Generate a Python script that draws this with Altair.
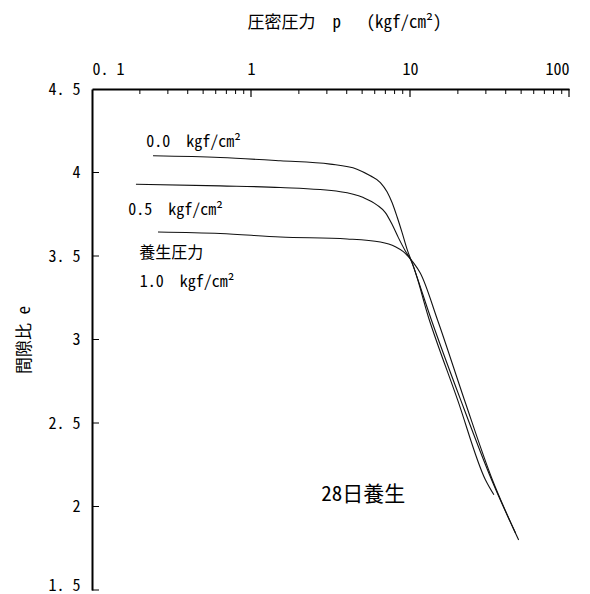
import altair as alt
import pandas as pd

# Consolidation curves: void ratio e vs. consolidation pressure p (log scale)
p_00 = [0.242, 0.64, 1.53, 3.15, 4.64, 5.63, 6.51, 7.17, 7.71, 8.29, 8.92, 9.59, 10.3, 13.6, 20.8, 32.6, 48.2]
e_00 = [4.10, 4.09, 4.07, 4.05, 4.02, 3.98, 3.94, 3.885, 3.82, 3.735, 3.64, 3.54, 3.46, 3.12, 2.64, 2.16, 1.80]

p_05 = [0.189, 0.64, 1.53, 3.65, 5.09, 6.21, 7.0, 7.71, 8.45, 9.35, 10.07, 13.2, 19.9, 29.8, 33.7]
e_05 = [3.93, 3.92, 3.91, 3.885, 3.85, 3.805, 3.76, 3.69, 3.61, 3.53, 3.48, 3.12, 2.64, 2.16, 2.07]

p_10 = [0.260, 0.64, 1.53, 4.02, 6.51, 8.09, 9.08, 9.77, 10.5, 11.6, 14.9, 22.0, 33.0, 46.1]
e_10 = [3.644, 3.635, 3.614, 3.602, 3.584, 3.556, 3.526, 3.496, 3.46, 3.398, 3.117, 2.638, 2.159, 1.841]

series_names = ["0.0", "0.5", "1.0"]
series_p = [p_00, p_05, p_10]
series_e = [e_00, e_05, e_10]

# Annotations placed in data coordinates
NB = "\u00a0"
ann_text = ["0.0" + NB * 2 + "kgf/cm²", "0.5" + NB * 2 + "kgf/cm²", "養生圧力",
            "1.0" + NB * 2 + "kgf/cm²", "28日養生"]
ann_p = [0.219, 0.169, 0.198, 0.200, 2.77]
ann_e = [4.18, 3.775, 3.518, 3.344, 2.069]
ann_size = [16, 16, 16, 16, 21]

# Inward tick marks
x_minor = [0.2, 0.3, 0.4, 0.5, 0.6, 0.7, 0.8, 0.9,
           2, 3, 4, 5, 6, 7, 8, 9,
           20, 30, 40, 50, 60, 70, 80, 90]
x_major = [1, 10, 100]
x_labels = [0.1, 1, 10, 100]
y_ticks = [4.0, 3.5, 3.0, 2.5, 2.0, 1.5]
y_labels = [4.5, 4.0, 3.5, 3.0, 2.5, 2.0, 1.5]

FONT = "Noto Sans Mono CJK JP, Noto Sans CJK JP, sans-serif"

rows = []
for name, ps, es in zip(series_names, series_p, series_e):
    for i, (p, e) in enumerate(zip(ps, es)):
        rows.append({"curve": name, "p": p, "e": e, "order": i})
curves = pd.DataFrame(rows)

ann = pd.DataFrame({"text": ann_text, "p": ann_p, "e": ann_e, "size": ann_size})
xminor_df = pd.DataFrame({"p": x_minor})
xmajor_df = pd.DataFrame({"p": x_major})
ytick_df = pd.DataFrame({"e": y_ticks})

x_scale = alt.Scale(type="log", domain=[0.1, 100])
y_scale = alt.Scale(domain=[1.5, 4.5], nice=False, zero=False)

x_axis = alt.Axis(
    orient="top", title="圧密圧力" + NB * 2 + "p" + NB * 3 + "(kgf/cm²)", values=x_labels,
    labelExpr="datum.value < 1 ? replace(format(datum.value, '.1f'), '.', '.\u00a0') : format(datum.value, 'd')",
    ticks=False, tickSize=0, grid=False, labelFlush=True,
    domainColor="black", domainWidth=2,
    labelFont=FONT, labelFontSize=16, labelColor="black", labelPadding=12,
    titleFont=FONT, titleFontSize=17, titleFontWeight="normal", titleColor="black",
    titlePadding=30, titleX=252,
)
y_axis = alt.Axis(
    title="間隙比" + NB + "e", values=y_labels,
    labelExpr="datum.value % 1 == 0 ? format(datum.value, 'd') : replace(format(datum.value, '.1f'), '.', '.\u00a0')",
    labelBaseline={"condition": {"test": "datum.value <= 1.5", "value": "alphabetic"}, "value": "middle"},
    ticks=False, tickSize=0, grid=False,
    domainColor="black", domainWidth=2,
    labelFont=FONT, labelFontSize=16, labelColor="black", labelPadding=12,
    titleFont=FONT, titleFontSize=17, titleFontWeight="normal", titleColor="black",
    titlePadding=14,
)

X = alt.X("p:Q", scale=x_scale, axis=x_axis)
Y = alt.Y("e:Q", scale=y_scale, axis=y_axis)

lines = alt.Chart(curves).mark_line(
    color="#111111", strokeWidth=1.1, interpolate="monotone"
).encode(x=X, y=Y, detail="curve:N", order="order:Q")

minor_ticks = alt.Chart(xminor_df).mark_rule(color="black", strokeWidth=1).encode(
    x=X, y=alt.value(0), y2=alt.value(5),
)
major_ticks = alt.Chart(xmajor_df).mark_rule(color="black", strokeWidth=1.2).encode(
    x=X, y=alt.value(0), y2=alt.value(8),
)
y_tick_marks = alt.Chart(ytick_df).mark_rule(color="black", strokeWidth=1).encode(
    y=Y, x=alt.value(0), x2=alt.value(7),
)

labels = alt.Chart(ann).mark_text(
    align="left", baseline="middle", font=FONT, color="black"
).encode(
    x=X, y=Y,
    text="text:N",
    size=alt.Size("size:Q", scale=None, legend=None),
)

chart = alt.layer(lines, minor_ticks, major_ticks, y_tick_marks, labels).properties(
    width=477,
    height=501,
    autosize=alt.AutoSizeParams(type="none"),
    padding={"left": 92, "top": 89, "right": 21, "bottom": 4},
    background="white",
).configure_view(stroke=None)

chart.save("out.html", embed_options={"renderer": "svg", "actions": False})
